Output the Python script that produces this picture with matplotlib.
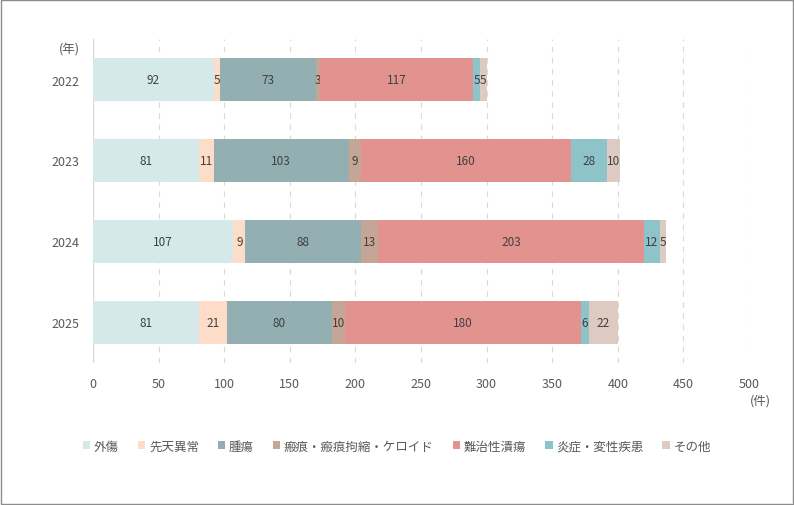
import matplotlib.pyplot as plt
from matplotlib.patches import Rectangle

plt.rcParams['font.family'] = ['Noto Sans CJK JP', 'DejaVu Sans']

years = ['2022', '2023', '2024', '2025']
categories = ['外傷', '先天異常', '腫瘍', '瘢痕・瘢痕拘縮・ケロイド', '難治性潰瘍', '炎症・変性疾患', 'その他']
gaisho = [92, 81, 107, 81]
senten = [5, 11, 9, 21]
shuyo = [73, 103, 88, 80]
hanko = [3, 9, 13, 10]
nanchi = [117, 160, 203, 180]
ensho = [5, 28, 12, 6]
sonota = [5, 10, 5, 22]
series = [gaisho, senten, shuyo, hanko, nanchi, ensho, sonota]
colors = ['#D5E8EA', '#FDDCC8', '#93AFB1', '#C4A596', '#E3938F', '#8DC3C9', '#DDCBC2']

fig = plt.figure(figsize=(7.94, 5.06), dpi=100)
ax = fig.add_axes([93 / 794, 1 - 364 / 506, 656 / 794, 324 / 506])

pos = list(range(len(years)))
left = [0] * len(years)
handles = []
for vals, col, name in zip(series, colors, categories):
    bars = ax.barh(pos, vals, left=left, height=0.52, color=col, label=name, zorder=3)
    ax.bar_label(bars, labels=[str(v) for v in vals], label_type='center',
                 fontsize=8.5, color='#404040')
    handles.append(bars)
    left = [a + b for a, b in zip(left, vals)]

ax.set_ylim(3.5, -0.5)
ax.set_xlim(0, 500)
ax.set_xticks(range(0, 501, 50))
ax.set_yticks(pos)
ax.set_yticklabels(years)
ax.tick_params(axis='both', length=0, labelsize=9, colors='#595959')
ax.tick_params(axis='x', pad=10)
ax.tick_params(axis='y', pad=10)
ax.grid(axis='x', linestyle=(0, (5, 5)), color='#D9D9D9', linewidth=0.8, zorder=0)
ax.axvline(0, color='#D9D9D9', linewidth=1, zorder=1)
for s in ax.spines.values():
    s.set_visible(False)

fig.text(80 / 794, 1 - 50 / 506, '(年)', ha='right', va='center', fontsize=9, color='#595959')
fig.text(760 / 794, 1 - 401 / 506, '(件)', ha='center', va='center', fontsize=9, color='#595959')

fig.legend(handles=handles, loc='center', bbox_to_anchor=(0.5, 1 - 447 / 506), ncol=7,
           frameon=False, fontsize=9, handlelength=0.6, handleheight=0.6,
           handletextpad=0.3, columnspacing=1.5, labelcolor='#595959')

fig.patches.append(Rectangle((0.001, 0.001), 0.998, 0.997, transform=fig.transFigure,
                             fill=False, edgecolor='#8C8C8C', linewidth=1))

fig.savefig('out.png', dpi=100)
